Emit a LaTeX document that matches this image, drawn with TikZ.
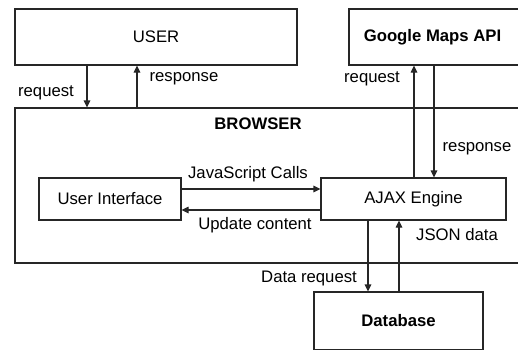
\documentclass[tikz,border=0pt]{standalone}
\usepackage{fontspec}
\setmainfont{Liberation Sans}
\usetikzlibrary{arrows.meta}
\begin{document}
\begin{tikzpicture}[x=1pt,y=-1pt,
  box/.style={draw=black!85, line width=1.1pt, rectangle, inner sep=0pt, font=\fontsize{16.7}{19}\selectfont},
  arr/.style={draw=black!85, line width=1.1pt, -{Triangle[length=7pt,width=6.5pt]}},
  lbl/.style={font=\fontsize{16.7}{19}\selectfont, inner sep=0pt}]
\useasboundingbox (0,0) rectangle (518,349);
\clip (0,0) rectangle (518,349);
\fill[white] (0,0) rectangle (518,349);
\node[box, minimum width=282pt, minimum height=56pt] (user) at (156,37) {USER};
\node[box, minimum width=171pt, minimum height=56pt, font=\fontsize{16.7}{19}\selectfont\bfseries] (gmaps) at (434.5,37) {\hspace*{-2pt}Google Maps API\hspace*{2pt}};
\node[box, minimum width=520pt, minimum height=155pt] (browser) at (275,185.5) {};
\node[lbl, font=\fontsize{16.7}{19}\selectfont\bfseries] (browserlbl) at (258,124) {BROWSER};
\node[box, minimum width=142pt, minimum height=42pt] (ui) at (110,199) {User Interface};
\node[box, minimum width=185pt, minimum height=42pt] (ajax) at (413.5,199) {AJAX Engine};
\node[box, minimum width=169pt, minimum height=58pt, font=\fontsize{16.7}{19}\selectfont\bfseries] (db) at (398.5,321) {Database};
% user <-> browser
\coordinate (ux1) at (87,0);
\coordinate (ux2) at (137,0);
\draw[arr] (user.south -| ux1) -- (browser.north -| ux1);
\draw[arr] (browser.north -| ux2) -- (user.south -| ux2);
\node[lbl] (ureq) at (46,93) {request};
\node[lbl] (uresp) at (184,79) {response};
% ajax <-> google
\coordinate (gx1) at (414,0);
\coordinate (gx2) at (434,0);
\draw[arr] (ajax.north -| gx1) -- (gmaps.south -| gx1);
\draw[arr] (gmaps.south -| gx2) -- (ajax.north -| gx2);
\node[lbl] (greq) at (372,79) {request};
\node[lbl] (gresp) at (477,149) {response};
% ui <-> ajax
\coordinate (hy1) at (0,189);
\coordinate (hy2) at (0,210);
\draw[arr] (ui.east |- hy1) -- (ajax.west |- hy1);
\draw[arr] (ajax.west |- hy2) -- (ui.east |- hy2);
\node[lbl] (js) at (248,174) {JavaScript Calls};
\node[lbl] (upd) at (255,225) {Update content};
% ajax <-> db
\coordinate (dx1) at (368,0);
\coordinate (dx2) at (399,0);
\draw[arr] (ajax.south -| dx1) -- (db.north -| dx1);
\draw[arr] (db.north -| dx2) -- (ajax.south -| dx2);
\node[lbl] (dreq) at (309,278) {Data request};
\node[lbl] (json) at (457,235) {JSON data};
\end{tikzpicture}
\end{document}
